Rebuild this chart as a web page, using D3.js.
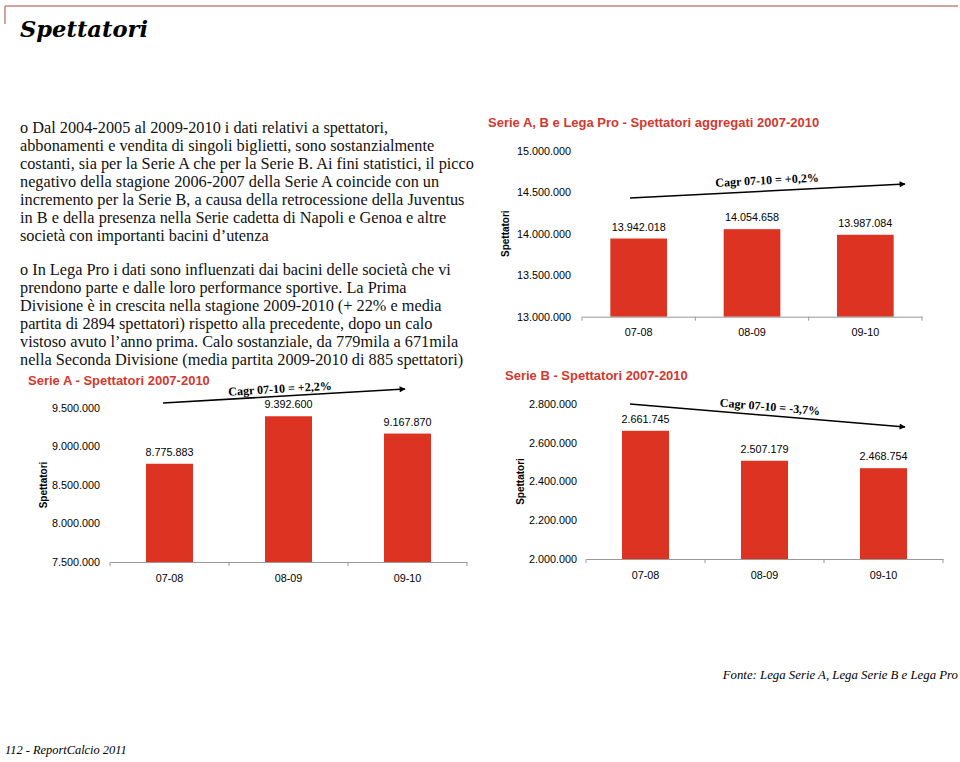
<!DOCTYPE html>
<html><head><meta charset="utf-8">
<script src="https://cdn.jsdelivr.net/npm/d3@7"></script>
<style>body{margin:0;background:#fff}svg{display:block}</style>
</head><body>
<svg id="c" width="960" height="762"></svg>
<script>
// ---- data ----
const categories = ["07-08", "08-09", "09-10"];
const aggregatiValues = [13942018, 14054658, 13987084];
const serieAValues = [8775883, 9392600, 9167870];
const serieBValues = [2661745, 2507179, 2468754];
const aggregatiTicks = [13000000, 13500000, 14000000, 14500000, 15000000];
const serieATicks = [7500000, 8000000, 8500000, 9000000, 9500000];
const serieBTicks = [2000000, 2200000, 2400000, 2600000, 2800000];
const chartTitles = ["Serie A, B e Lega Pro - Spettatori aggregati 2007-2010", "Serie A - Spettatori 2007-2010", "Serie B - Spettatori 2007-2010"];
const cagrLabels = ["Cagr 07-10 = +0,2%", "Cagr 07-10 = +2,2%", "Cagr 07-10 = -3,7%"];
const para1 = [
  "o Dal 2004-2005 al 2009-2010 i dati relativi a spettatori,",
  "abbonamenti e vendita di singoli biglietti, sono sostanzialmente",
  "costanti, sia per la Serie A che per la Serie B. Ai fini statistici, il picco",
  "negativo della stagione 2006-2007 della Serie A coincide con un",
  "incremento per la Serie B, a causa della retrocessione della Juventus",
  "in B e della presenza nella Serie cadetta di Napoli e Genoa e altre",
  "società con importanti bacini d’utenza"
];
const para2 = [
  "o In Lega Pro i dati sono influenzati dai bacini delle società che vi",
  "prendono parte e dalle loro performance sportive.  La Prima",
  "Divisione è in crescita nella stagione 2009-2010 (+ 22% e media",
  "partita di 2894 spettatori) rispetto alla precedente, dopo un calo",
  "vistoso avuto l’anno prima. Calo sostanziale, da 779mila a 671mila",
  "nella Seconda Divisione (media partita 2009-2010 di 885 spettatori)"
];

const RED = "#dd3322", TITLE_RED = "#d2382e", FRAME = "#c98380";
const svg = d3.select("#c");
const loc = d3.formatLocale({decimal: ",", thousands: ".", grouping: [3], currency: ["€", ""]});
const fmt = loc.format(",d");

svg.append("defs").append("marker")
  .attr("id", "arr").attr("viewBox", "0 0 10 10").attr("refX", 9).attr("refY", 5)
  .attr("markerWidth", 8).attr("markerHeight", 6).attr("markerUnits", "userSpaceOnUse")
  .attr("orient", "auto")
  .append("path").attr("d", "M0,0L10,5L0,10Z").attr("fill", "#000");

// page frame
svg.append("line").attr("x1", 5).attr("x2", 958).attr("y1", 6).attr("y2", 6).attr("stroke", FRAME).attr("stroke-width", 1.5);
svg.append("line").attr("x1", 5).attr("x2", 5).attr("y1", 6).attr("y2", 24).attr("stroke", FRAME).attr("stroke-width", 1.5);

svg.append("text").attr("x", 20).attr("y", 37).text("Spettatori")
  .style("font-family", "'DejaVu Serif', serif").style("font-weight", "bold").style("font-style", "italic")
  .style("font-size", "22.6px").attr("fill", "#000");

function para(lines, y0) {
  const t = svg.append("text").style("font-family", "'Liberation Serif', serif").style("font-size", "16.3px").attr("fill", "#111");
  lines.forEach((l, i) => t.append("tspan").attr("x", 20).attr("y", y0 + i * 18).text(l));
}
para(para1, 133);
para(para2, 275);

svg.append("text").attr("x", 958).attr("y", 679).attr("text-anchor", "end").text("Fonte: Lega Serie A, Lega Serie B e Lega Pro")
  .style("font-family", "'Liberation Serif', serif").style("font-style", "italic").style("font-size", "12.8px");
svg.append("text").attr("x", 5).attr("y", 754).text("112 - ReportCalcio 2011")
  .style("font-family", "'Liberation Serif', serif").style("font-style", "italic").style("font-size", "12.4px");

function chart(cfg) {
  const g = svg.append("g");
  const x = d3.scaleBand().domain(categories).range([cfg.x0, cfg.x1]).padding(0);
  const y = d3.scaleLinear().domain([cfg.ticks[0], cfg.ticks[cfg.ticks.length - 1]]).range([cfg.yb, cfg.yt]);
  const sans = "'Liberation Sans', Arial, sans-serif";

  g.append("text").attr("x", cfg.tx).attr("y", cfg.ty).text(cfg.title)
    .style("font-family", sans).style("font-weight", "bold").style("font-size", "13px").attr("fill", TITLE_RED);

  const ya = g.append("g").attr("transform", `translate(${cfg.x0},0)`)
    .call(d3.axisLeft(y).tickValues(cfg.ticks).tickSize(0).tickPadding(cfg.yPad).tickFormat(fmt));
  ya.select(".domain").remove();
  ya.selectAll("text").style("font-family", sans).style("font-size", "10.8px").attr("fill", "#000");

  const bw = x.bandwidth() * cfg.barFrac;
  g.selectAll("rect.bar").data(cfg.values).join("rect").attr("class", "bar")
    .attr("x", (d, i) => x(categories[i]) + (x.bandwidth() - bw) / 2)
    .attr("width", bw)
    .attr("y", d => y(d)).attr("height", d => cfg.yb - y(d)).attr("fill", RED);

  g.selectAll("text.val").data(cfg.values).join("text").attr("class", "val")
    .attr("x", (d, i) => x(categories[i]) + x.bandwidth() / 2)
    .attr("y", d => y(d) - 8).attr("text-anchor", "middle").text(d => fmt(d))
    .style("font-family", sans).style("font-size", "10.8px");

  const xa = g.append("g").attr("transform", `translate(0,${cfg.yb})`)
    .call(d3.axisBottom(x).tickSize(0).tickPadding(12));
  xa.select(".domain").attr("stroke", "#999");
  xa.selectAll("text").style("font-family", sans).style("font-size", "10.8px").attr("fill", "#000");
  const bounds = categories.map(c => x(c)).concat([x(categories[categories.length - 1]) + x.bandwidth()]);
  g.selectAll("line.tk").data(bounds).join("line").attr("class", "tk")
    .attr("x1", d => d).attr("x2", d => d).attr("y1", cfg.yb).attr("y2", cfg.yb + 4).attr("stroke", "#999");

  g.append("text").attr("transform", `translate(${cfg.lx},${(cfg.yb + cfg.yt) / 2}) rotate(-90)`)
    .attr("text-anchor", "middle").attr("dy", "0.35em").text("Spettatori")
    .style("font-family", sans).style("font-weight", "bold").style("font-size", "10px");

  const a = cfg.arrow;
  g.append("line").attr("x1", a[0]).attr("y1", a[1]).attr("x2", a[2]).attr("y2", a[3])
    .attr("stroke", "#000").attr("stroke-width", 1.6).attr("marker-end", "url(#arr)");
  const ang = Math.atan2(a[3] - a[1], a[2] - a[0]) * 180 / Math.PI;
  g.append("text").attr("transform", `translate(${cfg.cx},${cfg.cy}) rotate(${ang})`)
    .attr("text-anchor", "middle").attr("dy", "0.35em").text(cfg.cagr)
    .style("font-family", "'Liberation Serif', serif").style("font-weight", "bold").style("font-size", "12px");
}

chart({title: chartTitles[0], tx: 488, ty: 127, values: aggregatiValues, ticks: aggregatiTicks,
  x0: 582, x1: 922, yb: 316.7, yt: 150.7, yPad: 11, barFrac: 0.5, lx: 505,
  arrow: [630, 198, 905, 184], cx: 767, cy: 180, cagr: cagrLabels[0]});
chart({title: chartTitles[1], tx: 28, ty: 384.5, values: serieAValues, ticks: serieATicks,
  x0: 110, x1: 467, yb: 562, yt: 408, yPad: 10, barFrac: 0.395, lx: 43,
  arrow: [163, 403, 405, 389], cx: 280, cy: 388.5, cagr: cagrLabels[1]});
chart({title: chartTitles[2], tx: 505, ty: 380, values: serieBValues, ticks: serieBTicks,
  x0: 586, x1: 943, yb: 559, yt: 404, yPad: 9, barFrac: 0.395, lx: 520,
  arrow: [630, 404, 905, 427], cx: 770, cy: 406.5, cagr: cagrLabels[2]});
</script>
</body></html>
